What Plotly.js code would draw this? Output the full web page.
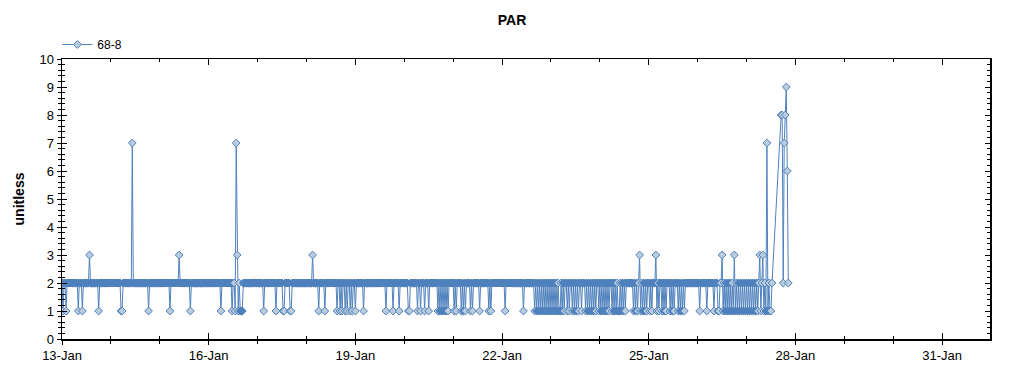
<!DOCTYPE html>
<html>
<head>
<meta charset="utf-8">
<script src="https://cdn.plot.ly/plotly-3.0.1.min.js"></script>
<style>html,body{margin:0;padding:0;background:#fff;}#chart{width:1024px;height:375px;}</style>
</head>
<body>
<div id="chart"></div>
<script>
// PAR readings of station 68-8, one sample every 30 minutes from 13-Jan 00:00
// (null = no sample)
const seriesName = '68-8';
const startTime = Date.UTC(2020, 0, 13, 0, 0);
const stepMinutes = 30;

const day13Jan = [2,1,2,2,1,2,2,2,2,2, 2,2,2,2,2,2,1,2,2,2, 1,2,2,2,2,2,2,3,2,2, 2,2,2,2,2,2,1,2,2,2, 2,2,2,2,2,2,2,2];
const day14Jan = [2,2,2,2,2,2,2,2,2,2, 1,1,2,2,2,2,2,2,2,2, 2,7,2,2,2,2,2,2,2,2, 2,2,2,2,2,2,2,1,2,2, 2,2,2,2,2,2,2,2];
const day15Jan = [2,2,2,2,2,2,2,2,2,2, 1,2,2,2,2,2,2,2,2,3, 2,2,2,2,2,2,2,2,2,2, 1,2,2,2,2,2,2,2,2,2, 2,2,2,2,2,2,2,2];
const day16Jan = [2,2,2,2,2,2,2,2,2,2, 2,2,1,2,2,2,2,2,2,2, 2,2,2,1,2,2,1,7,3,1, 2,1,1,1,2,2,2,2,2,2, 2,2,2,2,2,2,2,2];
const day17Jan = [2,2,2,2,2,2,1,2,2,2, 2,2,2,2,2,2,2,2,1,2, 2,2,2,2,2,1,1,2,2,2, 2,2,1,1,2,2,2,2,2,2, 2,2,2,2,2,2,2,2];
const day18Jan = [2,2,2,2,2,2,3,2,2,2, 2,2,1,2,2,2,2,2,1,2, 2,2,2,2,2,2,2,2,2,2, 1,2,2,1,2,1,2,2,1,2, 1,2,2,1,2,1,2,2];
const day19Jan = [1,2,2,2,2,2,2,2,1,2, 2,2,2,2,2,2,2,2,2,2, 2,2,2,2,2,2,2,2,2,2, 1,2,2,2,2,2,2,1,2,2, 2,2,2,1,2,2,2,2];
const day20Jan = [2,2,2,2,1,1,2,2,2,2, 2,2,2,1,2,2,1,2,2,2, 1,2,2,2,1,2,2,2,2,2, 2,2,2,1,2,1,2,1,2,1, 2,1,2,1,2,2,2,2];
const day21Jan = [2,1,2,1,2,2,2,2,1,2, 1,2,1,2,2,2,2,1,2,1, 2,2,2,2,2,2,1,2,2,2, 2,2,2,2,2,1,2,1,2,2, 2,2,2,2,2,2,2,2];
const day22Jan = [2,2,2,1,2,2,2,2,2,2, 2,2,2,2,2,2,2,2,2,2, 2,1,2,2,2,2,2,2,2,2, 2,2,1,2,1,2,1,2,1,2, 1,2,1,2,1,2,1,2];
const day23Jan = [1,2,1,2,1,2,1,2,1,1, 2,1,2,1,2,2,1,2,1,2, 2,1,2,1,2,1,2,1,2,2, 1,2,2,2,1,2,1,2,1,2, 1,2,1,2,1,2,2,1];
const day24Jan = [2,1,2,1,2,1,2,1,2,1, 2,2,1,2,1,2,1,2,1,1, 2,1,2,1,2,1,2,2,2,2, 2,2,2,1,2,1,2,1,2,3, 1,2,1,2,1,2,1,2];
const day25Jan = [2,1,2,1,2,2,2,3,1,2, 1,2,2,1,2,1,2,1,2,2, 2,1,2,1,2,1,2,2,2,1, 2,1,2,1,2,1,2,2,2,2, 2,2,2,2,2,2,2,2];
const day26Jan = [2,2,1,2,2,2,2,2,2,1, 2,2,2,2,2,2,1,2,2,2, 1,1,2,2,3,1,2,1,2,1, 2,1,2,1,2,1,3,1,2,1, 2,1,2,1,2,1,2,1];
const day27Jan = [2,1,2,1,2,1,2,1,2,1, 2,1,2,3,1,2,3,1,2,1, 7,1,2,1,1,2,null,null,null,null, null,null,null,null,8,8,2,7,8,9, 6,2,null,null,null,null,null,null];

const xRange = ['2020-01-13 00:00', '2020-01-31 23:30'];
const yRange = [0, 10];
const tickFormat = '%d-%b';

const values = [].concat(day13Jan, day14Jan, day15Jan, day16Jan, day17Jan, day18Jan, day19Jan,
  day20Jan, day21Jan, day22Jan, day23Jan, day24Jan, day25Jan, day26Jan, day27Jan);
const times = values.map((v, i) => {
  const d = new Date(startTime + i * stepMinutes * 60000);
  return d.toISOString().slice(0, 16).replace('T', ' ');
});

const BLUE = '#4f81bd';
const LIGHT = '#b9cbdd';
const FONT = 'Liberation Sans, Arial, sans-serif';
const DAY = 86400000;

// Where markers pile up densely (same value close by) the outlines merge into solid blue,
// isolated markers keep their light fill.
const fills = values.map((v, i) => {
  if (v === null) return LIGHT;
  const near = [i - 2, i - 1, i + 1, i + 2].filter(j => j >= 0 && j < values.length && values[j] === v).length;
  return near >= 2 ? BLUE : LIGHT;
});

const trace = {
  type: 'scatter', mode: 'lines+markers', name: seriesName,
  x: times, y: values, connectgaps: true, showlegend: false,
  line: {color: BLUE, width: 1},
  marker: {symbol: 'diamond', size: 6, color: fills, line: {color: BLUE, width: 1}}
};
const legendProxy = {
  type: 'scatter', mode: 'lines+markers', name: seriesName, x: [null], y: [null],
  line: {color: BLUE, width: 1},
  marker: {symbol: 'diamond', size: 6, color: LIGHT, line: {color: BLUE, width: 1}},
  hoverinfo: 'skip'
};
const dummy = {type: 'scatter', x: [], y: [], xaxis: 'x2', yaxis: 'y2', showlegend: false, hoverinfo: 'skip'};

const common = {showgrid: false, zeroline: false, linecolor: '#000', tickcolor: '#000', tickwidth: 1, linewidth: 1.5};

const layout = {
  width: 1024, height: 375,
  margin: {l: 62, r: 34, t: 59, b: 36},
  paper_bgcolor: '#fff', plot_bgcolor: '#fff',
  font: {family: FONT, color: '#000', size: 13},
  title: {text: 'PAR', x: 0.5, xref: 'container', y: 0.947, yanchor: 'middle',
          font: {family: FONT, size: 14, weight: 'bold', color: '#000'}},
  showlegend: true,
  legend: {orientation: 'h', x: -0.005, xanchor: 'left', y: 1.0, yanchor: 'bottom',
           font: {family: FONT, size: 12, color: '#000'}, bgcolor: 'rgba(0,0,0,0)'},
  xaxis: Object.assign({}, common, {
    type: 'date', range: xRange, tickmode: 'linear', tick0: '2020-01-13', dtick: 3 * DAY,
    tickformat: tickFormat, ticks: 'outside', ticklen: 4, showline: true, mirror: false,
    tickfont: {family: FONT, size: 13, color: '#000'},
    minor: {dtick: DAY, tick0: '2020-01-13', ticks: 'outside', ticklen: 3, tickcolor: '#000', showgrid: false}
  }),
  xaxis2: Object.assign({}, common, {
    type: 'date', range: xRange, overlaying: 'x', side: 'bottom', anchor: 'y2',
    tickmode: 'linear', tick0: '2020-01-13', dtick: 3 * DAY,
    ticks: 'inside', ticklen: 6, showline: true, mirror: 'allticks', showticklabels: false,
    minor: {dtick: DAY, tick0: '2020-01-13', ticks: 'inside', ticklen: 3, tickcolor: '#000', showgrid: false}
  }),
  yaxis: Object.assign({}, common, {
    range: yRange, tickmode: 'linear', tick0: 0, dtick: 1, ticks: 'outside', ticklen: 4,
    showline: true, tickfont: {family: FONT, size: 13, color: '#000'},
    title: {text: 'unitless', font: {family: FONT, size: 14, weight: 'bold', color: '#000'}},
    minor: {dtick: 0.2, tick0: 0, ticks: 'outside', ticklen: 3, tickcolor: '#000', showgrid: false}
  }),
  yaxis2: Object.assign({}, common, {
    range: yRange, overlaying: 'y', side: 'left', anchor: 'x2', tickmode: 'linear', tick0: 0, dtick: 1,
    ticks: 'inside', ticklen: 5, showline: true, mirror: 'allticks', showticklabels: false,
    minor: {dtick: 0.2, tick0: 0, ticks: 'inside', ticklen: 3, tickcolor: '#000', showgrid: false}
  })
};

Plotly.newPlot('chart', [trace, legendProxy, dummy], layout, {staticPlot: true, displayModeBar: false});
</script>
</body>
</html>
